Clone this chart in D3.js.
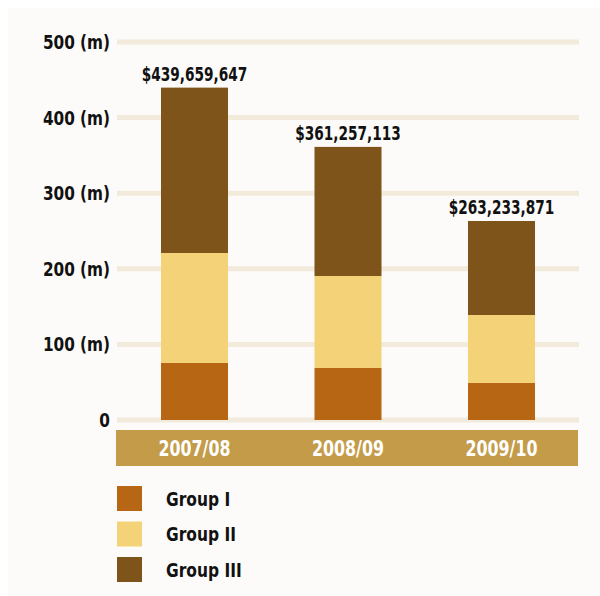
<!DOCTYPE html>
<html>
<head>
<meta charset="utf-8">
<script src="https://cdn.jsdelivr.net/npm/d3@7"></script>
<style>
  html, body { margin: 0; padding: 0; background: #ffffff; }
  svg { display: block; }
  text { font-family: "DejaVu Sans", sans-serif; font-stretch: condensed; font-weight: bold; }
</style>
</head>
<body>
<svg id="chart" width="600" height="596"></svg>
<script>
// Financial years shown along the band
const years = ["2007/08", "2008/09", "2009/10"];
// Spending by group, in millions of dollars
const groupI   = [75.4, 68.8, 49.0];
const groupII  = [145.5, 121.7, 89.9];
const groupIII = [218.76, 170.76, 124.33];
// Totals printed above each bar
const totals = [439659647, 361257113, 263233871];
const groupNames = ["Group I", "Group II", "Group III"];
const groupColors = ["#b76614", "#f4d378", "#7f541b"];
const yTicks = [0, 100, 200, 300, 400, 500];
const yTickLabels = ["0", "100 (m)", "200 (m)", "300 (m)", "400 (m)", "500 (m)"];

const svg = d3.select("#chart");

// narrow bold lettering: squeeze text horizontally around its anchor point
function squeezed(sel, k) {
  sel.each(function () {
    const t = d3.select(this);
    const tx = +t.attr("x"), ty = +t.attr("y");
    t.attr("x", 0).attr("y", 0)
     .attr("transform", `translate(${tx},${ty}) scale(${k},1)`);
  });
}

// panel background
svg.append("rect").attr("x", 8).attr("y", 8).attr("width", 592).attr("height", 588)
  .attr("fill", "#fcfbf9");

const plotLeft = 117, plotRight = 579;
const y = d3.scaleLinear().domain([0, 500]).range([420, 42]);
const x = d3.scaleBand().domain(years).range([plotLeft, plotRight])
  .paddingInner(0.5635).paddingOuter(0.2866);

// horizontal gridlines
svg.append("g").selectAll("line").data(yTicks).join("line")
  .attr("x1", plotLeft).attr("x2", plotRight)
  .attr("y1", d => y(d)).attr("y2", d => y(d))
  .attr("stroke", "#f2eadb").attr("stroke-width", 5);

// y labels
svg.append("g").selectAll("text").data(yTicks).join("text")
  .attr("x", 110).attr("y", d => y(d) + 7)
  .attr("text-anchor", "end")
  .attr("font-size", 20)
  .attr("fill", "#111")
  .text((d, i) => yTickLabels[i])
  .call(squeezed, 0.85);

// stacked bars
const rows = years.map((yr, i) => ({ year: yr, "Group I": groupI[i], "Group II": groupII[i], "Group III": groupIII[i] }));
const stack = d3.stack().keys(groupNames)(rows);

svg.append("g").selectAll("g").data(stack).join("g")
  .attr("fill", (d, i) => groupColors[i])
  .selectAll("rect").data(d => d).join("rect")
  .attr("x", d => x(d.data.year))
  .attr("width", x.bandwidth())
  .attr("y", d => y(d[1]))
  .attr("height", d => y(d[0]) - y(d[1]));

// totals above bars
const fmt = d3.format("$,");
svg.append("g").selectAll("text").data(years).join("text")
  .attr("x", d => x(d) + x.bandwidth() / 2)
  .attr("y", (d, i) => y(totals[i] / 1e6) - 7)
  .attr("text-anchor", "middle")
  .attr("font-size", 19.5)
  .attr("fill", "#111")
  .text((d, i) => fmt(totals[i]))
  .call(squeezed, 0.78);

// category band
svg.append("rect").attr("x", 116).attr("y", 430).attr("width", 462).attr("height", 36)
  .attr("fill", "#c49c49");
svg.append("g").selectAll("text").data(years).join("text")
  .attr("x", d => x(d) + x.bandwidth() / 2)
  .attr("y", 456)
  .attr("text-anchor", "middle")
  .attr("font-size", 22)
  .attr("fill", "#ffffff")
  .text(d => d)
  .call(squeezed, 0.8);

// legend
const legend = svg.append("g").selectAll("g").data(groupNames).join("g")
  .attr("transform", (d, i) => `translate(117, ${486 + i * 35.5})`);
legend.append("rect").attr("width", 25).attr("height", 25)
  .attr("fill", (d, i) => groupColors[i]);
legend.append("text").attr("x", 49).attr("y", 19.5)
  .attr("font-size", 20).attr("fill", "#111")
  .text(d => d)
  .call(squeezed, 0.86);
</script>
</body>
</html>
